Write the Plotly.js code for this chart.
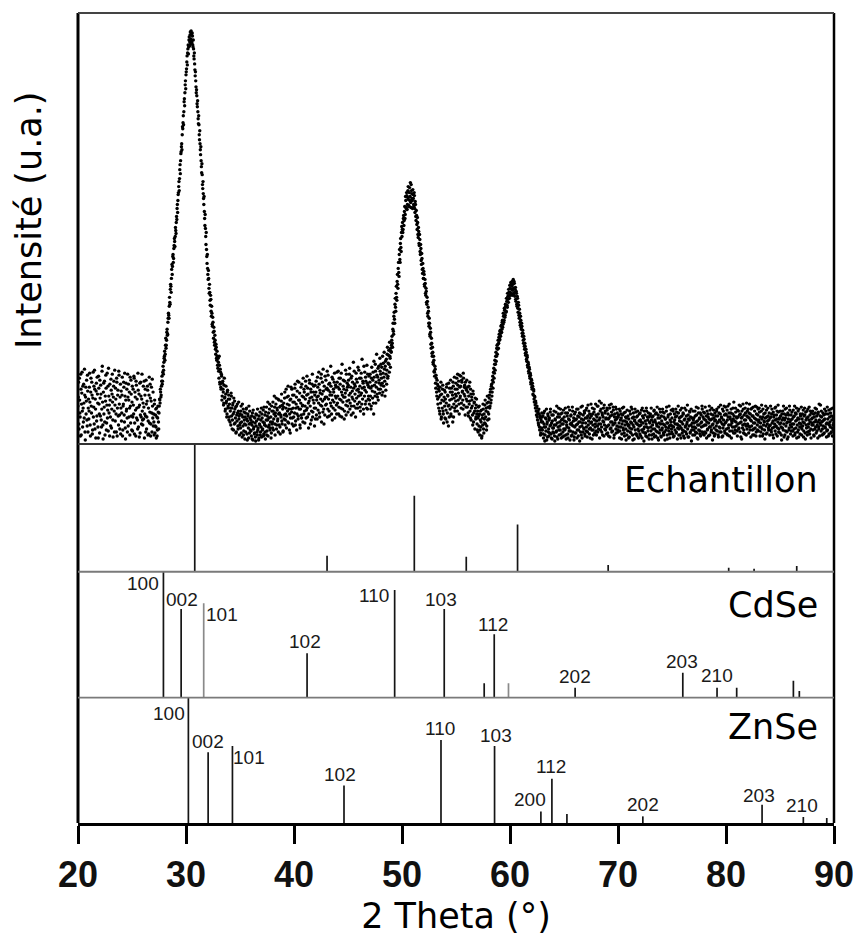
<!DOCTYPE html>
<html><head><meta charset="utf-8">
<script src="https://cdn.plot.ly/plotly-3.0.1.min.js"></script>
<style>html,body{margin:0;padding:0;background:#fff;}#chart{width:853px;height:936px;}</style>
</head><body><div id="chart"></div>
<script>
// ---------- DATA ----------
const scanStart = 20;      // 2θ of first point (°)
const scanStep = 0.05;     // 2θ step of each read-off series (°); series B sits half a step later
const intensityA = [
38,62,15,44,27,70,9,51,33,58,22,41,75,12,47,30,64,18,53,36,
25,57,42,8,66,31,49,14,72,37,20,55,45,6,61,28,50,17,68,40,
11,46,59,24,35,78,19,52,30,63,9,43,56,21,71,34,13,48,39,60,
27,65,16,50,42,7,58,33,74,23,45,12,62,36,54,19,69,29,47,10,
53,31,67,14,40,57,22,48,5,61,35,26,70,18,44,52,9,38,64,28,
42,13,55,30,66,21,47,8,59,36,24,71,17,50,39,11,62,27,45,33,
19,58,37,6,49,28,64,15,43,54,23,10,67,32,46,20,57,12,38,52,
30,9,44,18,35,6,27,14,38,22,31,45,41,52,49,63,60,72,70,82,
88,84,99,96,104,115,110,126,129,138,142,155,158,166,180,178,190,186,199,203,
208,214,222,225,240,244,252,263,266,280,284,293,301,310,316,329,333,346,352,364,
370,376,389,392,400,398,408,403,413,406,411,402,409,398,396,386,381,369,364,352,
349,338,333,321,320,305,301,290,284,272,270,256,251,240,233,219,216,200,195,181,
176,165,166,151,152,139,145,128,131,118,122,106,113,99,104,90,97,84,88,76,
82,66,79,60,72,55,68,48,63,52,41,66,47,35,58,43,30,54,38,49,
27,45,33,19,48,36,24,41,14,32,43,21,37,12,29,40,18,33,25,9,
30,16,38,22,7,27,35,13,24,5,31,19,36,10,23,28,6,20,33,14,
24,8,19,31,4,15,27,11,21,3,18,29,9,14,25,6,20,32,12,17,
7,26,15,34,10,21,29,5,18,37,13,24,8,31,19,40,16,27,11,33,
22,42,14,30,37,9,28,46,19,34,25,12,44,31,17,38,27,50,20,35,
13,41,29,52,24,36,16,47,33,58,21,39,30,11,45,35,55,26,42,18,
49,31,60,23,40,14,53,37,28,62,44,19,35,57,26,48,39,66,30,52,
21,45,58,34,68,27,50,16,43,61,38,55,24,47,70,32,52,41,18,59,
36,63,44,25,57,48,72,31,54,39,66,22,50,43,75,35,58,29,47,64,
40,56,27,69,45,33,61,52,78,38,49,24,65,55,42,71,34,59,46,30,
62,48,73,37,55,28,66,44,52,80,35,58,47,25,63,51,39,70,43,57,
32,64,49,76,41,57,29,68,53,45,82,38,60,50,27,71,46,62,36,55,
74,42,58,33,66,51,85,45,61,30,57,72,40,63,52,79,35,59,48,68,
44,70,56,38,77,53,64,41,83,59,48,73,62,90,50,67,44,78,61,86,
55,80,66,49,88,71,58,92,63,78,54,85,74,97,68,89,80,102,86,96,
92,104,101,115,113,128,125,140,137,151,147,163,160,176,172,190,185,201,197,212,
208,222,215,229,224,238,230,244,236,249,240,254,245,238,257,248,242,260,251,244,
255,246,238,249,232,240,224,229,215,222,207,213,199,205,190,196,180,186,171,176,
166,170,158,161,149,153,140,143,128,133,118,121,108,112,96,101,88,92,80,84,
72,78,61,69,52,64,45,58,36,53,30,49,62,27,44,55,33,21,47,38,
52,25,41,60,31,48,18,39,56,35,64,28,45,52,22,58,40,67,33,50,
61,38,55,70,44,63,30,57,48,68,41,62,53,35,66,50,59,29,56,45,
64,37,52,28,58,43,33,55,24,47,38,19,50,31,42,15,36,27,45,20,
33,12,28,38,9,24,17,34,8,26,40,15,30,21,44,27,36,18,48,32,
42,25,49,38,55,44,60,52,68,62,76,71,84,80,92,88,99,95,104,101,
110,105,114,111,119,115,124,120,128,124,134,129,138,133,143,137,148,142,152,146,
156,149,160,151,163,154,165,150,161,148,157,143,151,138,146,132,139,126,131,119,
124,115,118,108,111,101,105,95,98,89,92,83,87,77,80,71,75,66,69,60,
64,55,58,49,53,42,47,36,41,29,38,24,33,19,30,14,26,11,22,31,
14,28,6,20,33,9,17,25,4,22,30,12,8,26,18,35,10,21,5,16,
29,11,19,3,24,32,13,7,27,17,36,9,22,14,30,6,20,25,12,34,
8,23,15,31,5,19,28,10,37,16,24,4,13,29,21,9,33,18,26,7,
17,32,11,25,6,20,35,14,27,3,22,30,9,18,38,12,24,15,31,8,
21,13,36,7,28,19,33,10,26,16,40,22,5,30,14,25,35,11,20,29,
9,27,18,38,15,24,6,33,20,41,12,29,23,36,8,19,31,14,26,17,
34,11,25,19,39,7,28,16,32,22,13,37,20,9,30,24,15,35,18,27,
12,29,21,6,33,17,26,10,36,23,14,31,8,19,27,4,22,34,13,18,
25,7,16,30,11,21,35,9,19,27,5,24,14,32,10,20,28,15,6,23,
18,31,8,22,14,36,12,26,3,17,29,11,20,33,7,24,16,27,9,21,
30,13,24,5,19,28,10,34,15,22,8,31,18,12,26,4,21,35,14,20,
7,23,16,32,11,27,19,4,25,14,37,9,21,29,13,18,6,30,22,15,
26,10,33,17,8,24,20,35,12,28,5,19,31,15,23,9,27,16,36,11,
20,30,13,6,25,18,34,10,22,15,29,7,24,32,12,19,3,26,17,33,
14,21,9,28,16,37,11,23,5,31,19,26,13,8,29,22,35,10,18,25,
31,12,24,19,6,33,15,27,21,38,9,17,30,14,25,4,20,34,16,23,
10,28,18,35,13,22,7,31,24,16,39,12,26,20,8,33,19,29,11,37,
22,15,34,9,27,19,40,13,25,31,6,21,17,36,11,28,23,14,32,18,
26,8,20,33,16,29,12,38,22,5,27,19,35,14,24,10,31,18,41,15,
20,35,11,26,17,30,7,23,36,14,28,21,9,33,16,25,12,37,19,29,
13,24,32,8,21,17,39,15,27,10,30,22,5,26,18,34,11,23,28,14,
31,9,19,27,12,35,16,23,6,29,20,13,37,18,25,8,22,32,15,26,
11,28,17,4,24,33,14,20,30,9,26,18,36,12,22,7,29,16,34,19,
24,13,32,20,8,27,15,38,11,23,30,6,19,26,14,35,21,10,28,17,
9,25,18,34,13,21,29,5,24,16,33,12,27,20,37,10,22,15,31,19,
26,14,30,8,22,36,17,11,28,19,6,32,15,24,21,39,13,27,9,23,
18,29,11,25,16,33,7,21,14,30,20,10,27,17,35,12,24,8,19,26,
15
];
const intensityB = [
47,20,66,31,8,55,40,72,17,36,60,26,49,4,57,43,24,69,12,45,
33,71,19,52,38,62,10,46,27,58,74,15,35,53,23,67,41,6,56,30,
64,28,50,17,73,42,5,61,37,22,48,69,14,39,26,58,76,31,8,44,
18,54,35,70,24,47,63,12,39,56,30,66,8,49,28,73,40,15,60,36,
23,49,8,38,62,29,71,16,44,33,55,12,47,60,27,36,67,21,50,14,
58,27,39,68,10,52,34,63,26,45,15,54,37,7,61,29,48,20,70,24,
41,25,63,30,55,12,40,27,58,9,36,49,21,60,8,43,31,65,26,18,
22,40,11,29,17,36,8,26,32,15,38,44,55,47,58,68,63,78,74,86,
93,90,106,99,112,109,122,131,126,147,140,160,152,175,170,188,182,196,206,198,
217,211,228,236,232,250,258,254,275,271,291,298,295,318,322,320,343,339,360,356,
373,383,380,396,391,405,399,410,401,414,404,412,400,405,389,392,375,373,358,355,
341,344,326,329,310,314,295,298,278,281,260,263,246,248,226,230,208,212,188,190,
170,174,156,160,144,149,133,138,120,127,112,117,102,109,95,100,86,93,79,86,
73,88,62,75,57,70,44,61,55,39,59,46,33,50,41,27,52,36,45,24,
40,22,36,51,28,15,39,30,46,20,35,26,11,38,23,31,15,42,28,19,
21,33,11,29,40,18,9,32,20,27,12,35,25,4,30,16,38,11,26,21,
13,28,5,22,34,17,10,26,7,30,23,12,35,16,4,28,19,9,24,36,
30,14,22,8,37,19,12,32,24,9,28,42,17,26,35,14,22,6,38,20,
16,33,25,48,20,31,40,15,36,23,45,30,19,37,10,29,43,23,39,12,
37,25,46,19,30,55,28,40,22,48,35,14,44,26,57,32,20,49,36,27,
42,56,19,36,47,30,63,25,44,35,51,16,41,29,60,38,22,47,55,33,
38,63,26,49,36,56,41,30,64,46,20,52,33,60,27,44,58,36,49,25,
52,29,47,67,34,41,60,27,51,45,70,38,62,32,53,20,45,68,39,55,
47,73,35,54,60,28,49,41,58,30,67,44,36,52,62,26,48,57,39,72,
41,57,30,66,45,60,36,71,27,49,42,64,55,33,47,74,29,54,61,38,
59,44,70,35,51,66,38,47,62,31,56,73,43,58,36,65,54,40,77,48,
52,66,37,49,71,40,56,63,35,78,48,54,67,43,36,61,70,45,57,40,
62,48,35,66,58,46,72,30,67,52,80,41,57,69,47,76,55,64,51,73,
70,59,77,61,52,81,67,75,48,83,70,60,90,66,81,94,72,88,77,93,
99,108,97,121,110,132,121,146,133,158,144,170,156,182,168,195,182,206,193,218,
215,212,226,219,233,226,248,237,252,235,247,258,239,252,244,262,237,254,246,236,
250,240,252,236,243,228,234,220,227,210,217,201,210,193,200,184,191,175,181,166,
173,160,165,151,156,142,147,131,137,121,126,110,116,100,106,91,97,82,88,73,
68,75,56,66,48,60,40,55,47,33,57,41,25,50,36,59,30,43,54,26,
45,34,57,22,49,38,61,27,44,52,30,56,37,49,62,27,46,36,55,43,
48,66,33,59,51,40,69,46,58,36,64,52,44,71,39,57,48,62,37,54,
43,57,31,48,40,62,26,50,36,44,29,53,22,41,33,46,25,39,30,14,
26,37,18,30,14,33,22,6,29,19,35,11,25,39,20,33,14,41,24,37,
30,46,36,52,41,58,48,64,56,72,66,80,74,88,83,96,90,100,96,107,
104,113,108,118,112,122,117,131,122,136,127,140,132,146,139,151,145,155,149,159,
152,162,155,158,149,160,156,163,152,155,145,153,140,148,136,142,129,135,122,128,
117,121,111,114,104,108,98,101,91,95,85,89,79,82,73,77,68,71,62,65,
57,61,50,55,45,48,39,43,33,36,27,31,21,35,17,28,9,24,16,27,
22,10,31,17,3,26,13,35,20,7,28,15,24,11,32,19,6,29,23,12,
16,33,8,25,19,12,38,21,5,30,14,27,18,35,10,24,31,7,20,15,
27,14,36,9,22,17,31,6,25,13,34,20,28,8,19,37,12,23,4,30,
11,24,19,35,14,28,8,22,31,17,12,37,25,6,21,29,16,33,10,26,
34,17,26,12,39,23,15,30,6,21,28,14,36,19,9,32,24,17,40,13,
23,38,12,30,20,43,26,14,35,17,31,9,27,22,39,15,33,25,10,36,
18,30,8,26,36,15,22,40,12,29,19,34,6,27,21,37,11,25,31,14,
27,17,35,13,24,30,5,20,29,16,37,11,23,32,15,26,9,20,28,6,
19,33,12,22,37,15,26,4,31,17,23,35,10,21,27,8,33,19,13,30,
10,24,19,34,6,28,21,15,33,11,23,8,36,17,27,13,31,5,22,28,
17,36,9,27,15,22,33,7,24,30,13,20,37,6,29,17,11,26,32,8,
28,14,35,20,9,31,12,25,17,33,21,5,27,16,38,10,24,19,34,12,
18,35,7,22,30,14,27,11,32,20,16,38,9,26,18,34,6,22,28,14,
31,8,24,36,17,12,28,20,39,7,25,18,33,11,27,35,14,21,9,24,
26,17,33,12,22,29,6,19,36,14,25,10,31,21,17,38,12,27,32,9,
19,37,11,28,22,14,30,8,25,17,34,24,12,36,19,29,11,26,8,31,
24,14,33,21,28,9,37,17,12,30,22,27,7,35,16,24,38,13,21,30,
29,10,24,38,16,31,8,27,19,35,23,13,30,25,42,17,11,36,22,27,
13,34,27,15,39,21,30,7,26,33,16,40,11,29,20,36,24,9,28,33,
27,18,31,40,14,24,35,18,28,9,37,15,26,21,38,8,30,24,14,35,
22,36,17,27,12,33,25,8,35,19,23,14,31,38,10,27,20,36,16,24,
18,26,38,14,30,21,9,32,27,17,36,24,10,29,33,16,39,12,25,20,
33,21,9,30,16,26,38,7,24,35,13,29,21,5,31,25,14,38,22,10,
29,17,25,13,34,20,28,9,31,16,36,24,12,33,7,25,17,30,20,37,
15,30,22,7,28,36,11,32,19,26,9,35,17,24,13,29,33,6,25,21,
33,19,9,27,15,31,24,35,13,22,30,17,40,8,28,19,33,22,15,31,
10,24,35,17,30,20,13,37,25,8,34,19,22,31,11,28,16,36,14,21
];

const echPos = [30.81, 43.06, 51.14, 55.95, 60.70, 69.09, 80.25, 82.60, 86.55];
const echInt = [100, 12.5, 59.5, 11.7, 37, 5.2, 3.1, 2.3, 4.5];

const cdsePos = [27.91, 29.55, 31.64, 41.21, 49.32, 53.91, 57.61, 58.54, 59.86, 66.03, 76.00, 79.17, 80.99, 86.24, 86.79];
const cdseInt = [100, 70.4, 75, 35.2, 85.5, 70.4, 11.4, 50.3, 11.4, 7.9, 19.8, 7.9, 7.9, 13.5, 5.3];
const cdseHkl = ['100','002','101','102','110','103','','112','','202','203','210','','',''];

const znsePos = [30.22, 32.05, 34.30, 44.63, 53.61, 58.57, 62.86, 63.88, 65.27, 72.30, 83.34, 87.16, 89.33];
const znseInt = [100, 56.5, 61.5, 30, 66.3, 61.5, 9.2, 35.3, 7.2, 5.3, 14.6, 4.8, 4];
const znseHkl = ['100','002','101','102','110','103','200','112','','202','203','210',''];

const panelNames = ['Echantillon', 'CdSe', 'ZnSe'];
const xTicks = [20, 30, 40, 50, 60, 70, 80, 90];
const xTitle = '2 Theta (°)';
const yTitle = 'Intensité (u.a.)';

// ---------- STYLE ----------
const cdseLabelShift = {'100':[-20,-12],'002':[1,10],'101':[18,-11],'102':[-2,12],'110':[-21,-6],'103':[-3,10],'112':[-1,10],'202':[0,11],'203':[-1,11],'210':[0,12]};
const znseLabelShift = {'100':[-19,-16],'002':[0,11],'101':[17,-12],'102':[-4,11],'110':[-1,11],'103':[1,10],'200':[-11,12],'112':[-1,12],'202':[0,12],'203':[-3,9],'210':[-1,11]};
const lightSticks = {'cdse':[31.64, 59.86]};

const doms = {y:[0.4679,1], y2:[0.3102,0.4679], y3:[0.1547,0.3102], y4:[0,0.1547]};
const textFont = 'DejaVu Sans, Verdana, sans-serif';
const numFont = 'Liberation Sans, Arial, sans-serif';

// ---------- BUILD ----------
const xA = intensityA.map((_, i) => +(scanStart + i * scanStep).toFixed(3));
const xB = intensityB.map((_, i) => +(scanStart + (i + 0.5) * scanStep).toFixed(3));

function sticks(pos, val, yaxis, color) {
  const xs = [], ys = [];
  pos.forEach((p, i) => { xs.push(p, p, null); ys.push(0, val[i], null); });
  return {type:'scatter', mode:'lines', x:xs, y:ys, xaxis:'x', yaxis:yaxis,
          line:{color:color||'#151515', width:1.7}, hoverinfo:'skip', showlegend:false};
}
const scanMarker = {color:'#000', size:3.4, symbol:'circle'};

const traces = [
  {type:'scatter', mode:'markers', x:xA, y:intensityA, xaxis:'x', yaxis:'y', marker:scanMarker, showlegend:false, hoverinfo:'skip'},
  {type:'scatter', mode:'markers', x:xB, y:intensityB, xaxis:'x', yaxis:'y', marker:scanMarker, showlegend:false, hoverinfo:'skip'},
  sticks(echPos, echInt, 'y2'),
  sticks(cdsePos.filter(p => !lightSticks.cdse.includes(p)), cdseInt.filter((v,i) => !lightSticks.cdse.includes(cdsePos[i])), 'y3'),
  sticks(cdsePos.filter(p => lightSticks.cdse.includes(p)), cdseInt.filter((v,i) => lightSticks.cdse.includes(cdsePos[i])), 'y3', '#8a8a8a'),
  sticks(znsePos, znseInt, 'y4')
];

const annotations = [];
function hklLabels(pos, val, hkl, yref, shifts) {
  hkl.forEach((t, i) => {
    if (!t) return;
    const s = shifts[t] || [0, 10];
    annotations.push({x:pos[i], y:val[i], xref:'x', yref:yref, text:t, showarrow:false,
      xanchor:'center', yanchor:'middle', xshift:s[0], yshift:s[1],
      font:{family:numFont, size:19, color:'#1a1a1a'}});
  });
}
hklLabels(cdsePos, cdseInt, cdseHkl, 'y3', cdseLabelShift);
hklLabels(znsePos, znseInt, znseHkl, 'y4', znseLabelShift);

const nameY = [0.4235, 0.2691, 0.1185];
panelNames.forEach((n, i) => {
  annotations.push({x:0.9815, y:nameY[i], xref:'paper', yref:'paper', text:n, showarrow:false,
    xanchor:'right', yanchor:'middle', font:{family:textFont, size:35, color:'#000'}});
});
annotations.push({x:-0.064, y:0.744, xref:'paper', yref:'paper', text:yTitle, showarrow:false,
  textangle:-90, xanchor:'center', yanchor:'middle', font:{family:textFont, size:35, color:'#000'}});

const hidden = {showticklabels:false, ticks:'', showgrid:false, zeroline:false, showline:false, anchor:'x', fixedrange:true};

const shapes = [
  {type:'line', xref:'paper', yref:'paper', x0:0, x1:0, y0:1, y1:0, line:{color:'#000', width:3}},
  {type:'line', xref:'paper', yref:'paper', x0:1, x1:1, y0:1, y1:0, line:{color:'#000', width:2.5}},
  {type:'line', xref:'paper', yref:'paper', x0:0, x1:1, y0:1, y1:1, line:{color:'#444', width:2}},
  {type:'line', xref:'paper', yref:'paper', x0:0, x1:1, y0:doms.y[0], y1:doms.y[0], line:{color:'#333', width:2}},
  {type:'line', xref:'paper', yref:'paper', x0:0, x1:1, y0:doms.y2[0], y1:doms.y2[0], line:{color:'#7a7a7a', width:1.8}},
  {type:'line', xref:'paper', yref:'paper', x0:0, x1:1, y0:doms.y3[0], y1:doms.y3[0], line:{color:'#7a7a7a', width:1.8}}
];

const layout = {
  width:853, height:936,
  margin:{l:78, r:19, t:13, b:113},
  paper_bgcolor:'#fff', plot_bgcolor:'#fff',
  showlegend:false,
  xaxis:{domain:[0,1], range:[20,90], anchor:'y4', tickvals:xTicks, ticktext:xTicks.map(String),
    ticks:'outside', ticklen:18, tickwidth:3, tickcolor:'#000', ticklabeloverflow:'allow',
    showline:true, linecolor:'#000', linewidth:3, showgrid:false, zeroline:false,
    tickfont:{family:numFont, size:36, color:'#111', weight:'bold'},
    title:{text:xTitle, font:{family:textFont, size:35, color:'#000'}, standoff:14}},
  yaxis:Object.assign({domain:doms.y, range:[0,432]}, hidden),
  yaxis2:Object.assign({domain:doms.y2, range:[0,100]}, hidden),
  yaxis3:Object.assign({domain:doms.y3, range:[0,100]}, hidden),
  yaxis4:Object.assign({domain:doms.y4, range:[0,100]}, hidden),
  annotations:annotations,
  shapes:shapes
};

Plotly.newPlot('chart', traces, layout, {staticPlot:true, displayModeBar:false});
</script>
</body></html>
